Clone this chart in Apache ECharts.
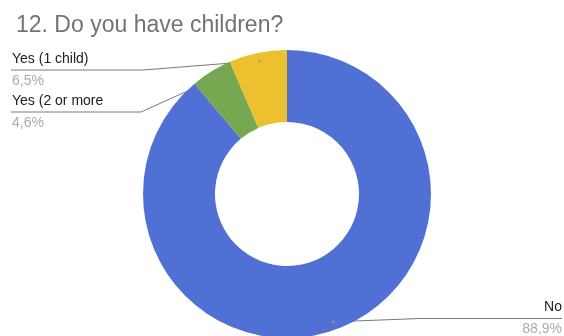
<!DOCTYPE html>
<html>
<head>
<meta charset="utf-8">
<script src="https://cdn.jsdelivr.net/npm/echarts@6/dist/echarts.min.js"></script>
<style>
  html, body { margin: 0; padding: 0; background: #ffffff; }
  #chart { width: 564px; height: 336px; }
</style>
</head>
<body>
<div id="chart"></div>
<script>
// Survey answers, in slice order (clockwise from 12 o'clock)
const categories = ['No', 'Yes (2 or more', 'Yes (1 child)'];
const shares = [88.9, 4.6, 6.5];
const sliceColors = ['#5170d6', '#76a851', '#ecc02f'];

const FONT = '"Liberation Sans", Arial, sans-serif';
const CENTER = [287, 194];
const INNER_R = 72;
const OUTER_R = 144;
const DOT_R = 136;           // where each leader line starts inside its slice

// Leader-line layout: height of the horizontal run, where it bends, and the text edge
const labelRows = [
  { y: 318.5, bendX: 420, edge: 562 },
  { y: 112, bendX: 141, edge: 11 },
  { y: 70, bendX: 143, edge: 11 }
];

const total = shares.reduce((s, v) => s + v, 0);
// middle of each slice, in the same units as the values
const mids = shares.map((v, i) => shares.slice(0, i).reduce((s, x) => s + x, 0) + v / 2);

function pctText(v) {
  return v.toFixed(1).replace('.', ',') + '%';
}

const chart = echarts.init(document.getElementById('chart'), null, { renderer: 'canvas' });

chart.setOption({
  animation: false,
  backgroundColor: '#ffffff',
  title: {
    text: '12. Do you have children?',
    left: 11,
    top: 9,
    textStyle: { fontFamily: FONT, fontSize: 23, fontWeight: 'normal', color: '#737373' }
  },
  polar: { center: CENTER, radius: DOT_R },
  angleAxis: { type: 'value', min: 0, max: total, startAngle: 90, clockwise: true, show: false },
  radiusAxis: { type: 'value', min: 0, max: 1, show: false },
  series: [
    {
      type: 'pie',
      center: CENTER,
      radius: [INNER_R, OUTER_R],
      startAngle: 90,
      clockwise: true,
      silent: true,
      avoidLabelOverlap: false,
      data: categories.map((name, i) => ({
        name: name,
        value: shares[i],
        itemStyle: { color: sliceColors[i] }
      })),
      label: {
        show: true,
        position: 'outside',
        formatter: p => '{n|' + p.name + '}\n{v|' + pctText(p.value) + '}',
        rich: {
          n: { fontFamily: FONT, fontSize: 14, color: '#202020', lineHeight: 22 },
          v: { fontFamily: FONT, fontSize: 14, color: '#ababab', lineHeight: 22 }
        }
      },
      labelLine: {
        show: true,
        length: 10,
        length2: 10,
        lineStyle: { color: '#7a7a7a', width: 1 }
      },
      labelLayout: function (params) {
        const i = params.dataIndex;
        const row = labelRows[i];
        const a = mids[i] / total * Math.PI * 2;
        const start = [CENTER[0] + DOT_R * Math.sin(a), CENTER[1] - DOT_R * Math.cos(a)];
        const onLeft = Math.sin(a) < 0;
        return {
          x: row.edge + (onLeft ? 1 : 0),
          y: row.y,
          align: onLeft ? 'left' : 'right',
          verticalAlign: 'middle',
          labelLinePoints: [start, [row.bendX, row.y], [row.edge, row.y]]
        };
      }
    },
    {
      // small markers where the leader lines leave the slices
      type: 'scatter',
      coordinateSystem: 'polar',
      silent: true,
      symbol: 'circle',
      symbolSize: 3,
      itemStyle: { color: '#9a9a9a' },
      data: mids.map(m => [1, m])
    }
  ]
});
</script>
</body>
</html>
